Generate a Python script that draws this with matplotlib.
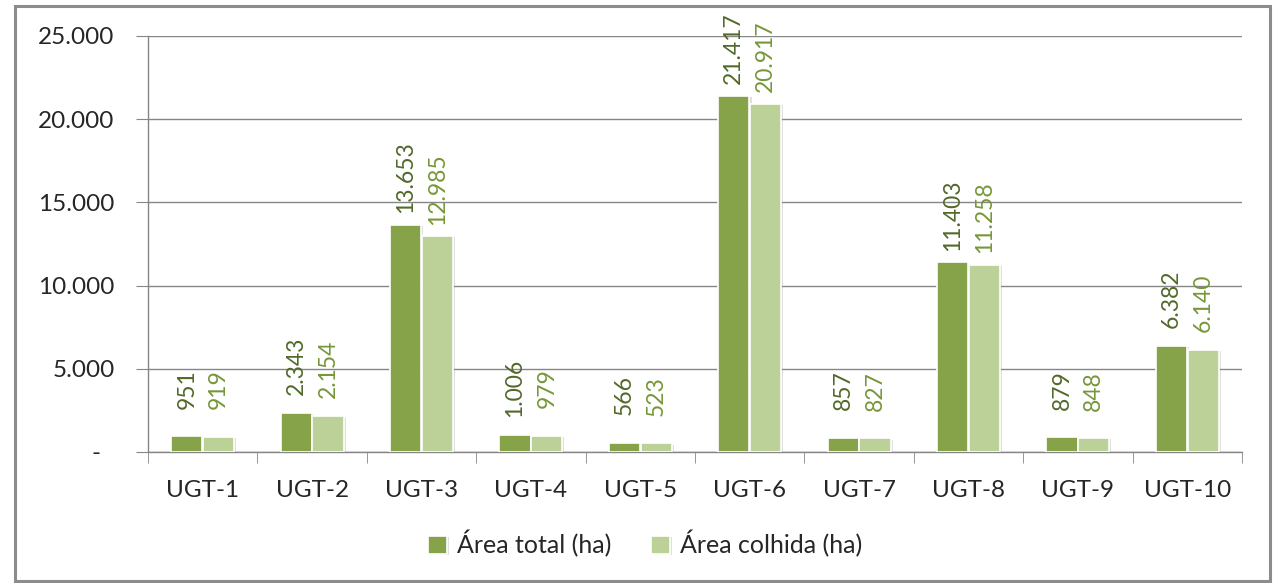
import matplotlib
matplotlib.use("Agg")
import matplotlib.pyplot as plt
import matplotlib.patheffects as pe
import matplotlib.transforms as mtransforms
import numpy as np
from matplotlib.patches import Rectangle

categories = ["UGT-1", "UGT-2", "UGT-3", "UGT-4", "UGT-5", "UGT-6", "UGT-7", "UGT-8", "UGT-9", "UGT-10"]
area_total = [951, 2343, 13653, 1006, 566, 21417, 857, 11403, 879, 6382]
area_colhida = [919, 2154, 12985, 979, 523, 20917, 827, 11258, 848, 6140]
series_names = ["Área total (ha)", "Área colhida (ha)"]
yticks = [0, 5000, 10000, 15000, 20000, 25000]
ytick_labels = ["-", "5.000", "10.000", "15.000", "20.000", "25.000"]

plt.rcParams['font.family'] = ['Lato', 'DejaVu Sans']

def fmt(v):
    return f"{v:,}".replace(",", ".")

fig = plt.figure(figsize=(12.73, 5.83), dpi=100)
ax = fig.add_axes([148/1273, 1-452/583, (1242-148)/1273, (452-36)/583])

x = np.arange(len(categories))
w = 0.285
off = 0.145
c_dark = "#86A34A"
c_light = "#BCD198"
lab_dark = "#52692A"
lab_light = "#77973A"
shadow = [pe.SimplePatchShadow(offset=(1.5, -1), shadow_rgbFace="#999999", alpha=0.3), pe.Normal()]

b1 = ax.bar(x - off, area_total, w, color=c_dark, edgecolor="white", linewidth=1.2, zorder=3)
b2 = ax.bar(x + off, area_colhida, w, color=c_light, edgecolor="white", linewidth=1.2, zorder=3)
for b in list(b1) + list(b2):
    b.set_path_effects(shadow)

for xi, v in zip(x, area_total):
    ax.annotate(fmt(v), (xi - off, v), xytext=(0, 34), textcoords="offset points",
                rotation=90, ha="center", va="center", fontsize=16.5, color=lab_dark)
for xi, v in zip(x, area_colhida):
    ax.annotate(fmt(v), (xi + off, v), xytext=(0, 34), textcoords="offset points",
                rotation=90, ha="center", va="center", fontsize=16.5, color=lab_light)

ax.set_xlim(-0.5, len(categories) - 0.5)
ax.set_ylim(0, 25000)
ax.set_yticks(yticks)
ax.set_yticklabels(ytick_labels, fontsize=17.5, color="#262626")
ax.set_xticks(x)
ax.set_xticklabels(categories, fontsize=17.5, color="#262626")
ax.set_xticks(np.arange(-0.5, len(categories)), minor=True)
ax.tick_params(axis="x", which="major", length=0, pad=20)
ax.tick_params(axis="x", which="minor", length=8, color="#868686", direction="out")
ax.tick_params(axis="y", length=9, color="#868686", pad=15)
ax.grid(axis="y", color="#868686", linewidth=1, zorder=0)
ax.set_axisbelow(True)
for s in ["top", "right"]:
    ax.spines[s].set_visible(False)
for s in ["left", "bottom"]:
    ax.spines[s].set_color("#868686")
    ax.spines[s].set_linewidth(1)

# shift the zero label ("-") left, like the accounting format
zero_lbl = ax.get_yticklabels()[0]
zero_lbl.set_transform(zero_lbl.get_transform() +
                       mtransforms.ScaledTranslation(-0.14, 0, fig.dpi_scale_trans))

leg = fig.legend([b1, b2], series_names, loc="center", bbox_to_anchor=(645/1273, 1-544/583),
                 ncol=2, frameon=False, fontsize=18, handlelength=0.75, handleheight=0.75,
                 handletextpad=0.4, columnspacing=1.6)
for t in leg.get_texts():
    t.set_color("#262626")

fig.patches.append(Rectangle((15/1273, 1-581/583), (1270-15)/1273, (581-6)/583,
                             transform=fig.transFigure, fill=False, edgecolor="#8C8C8C",
                             linewidth=2.2, zorder=10))

fig.savefig("out.png", dpi=100)
